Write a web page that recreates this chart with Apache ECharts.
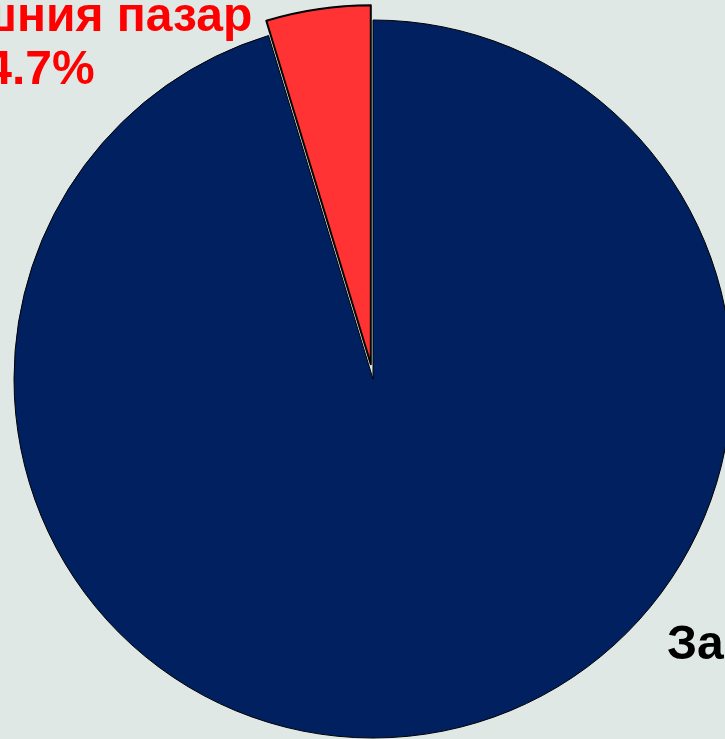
<!DOCTYPE html>
<html>
<head>
<meta charset="utf-8">
<script src="https://cdn.jsdelivr.net/npm/echarts@6/dist/echarts.min.js"></script>
<style>
html,body{margin:0;padding:0;background:#E0E8E6;}
#chart{width:725px;height:739px;}
</style>
</head>
<body>
<div id="chart"></div>
<script>
var categories = ['За износ', 'Вътрешния пазар'];
var values = [95.3, 4.7];
var colors = ['#00205F', '#FF3333'];
var labelTexts = ['За износ 95.3%', 'Вътрешния пазар\n4.7%'];

var chart = echarts.init(document.getElementById('chart'));
var labelPos = [
  {x: 667, y: 646, align: 'left', color: '#000000'},
  {x: 40, y: 44, align: 'center', color: '#FF0000'}
];
var data = categories.map(function (c, i) {
  return {
    name: c,
    value: values[i],
    selected: i === 1,
    itemStyle: {color: colors[i], borderColor: '#000', borderWidth: i === 1 ? 2 : 1}
  };
});
var graphics = labelTexts.map(function (t, i) {
  return {
    type: 'text',
    x: labelPos[i].x,
    y: labelPos[i].y,
    z: 100,
    style: {
      text: t,
      fill: labelPos[i].color,
      font: 'bold 48px "Liberation Sans", Arial, sans-serif',
      lineHeight: 53,
      align: labelPos[i].align,
      verticalAlign: 'middle'
    }
  };
});
chart.setOption({
  backgroundColor: '#E0E8E6',
  animation: false,
  graphic: graphics,
  series: [{
    type: 'pie',
    center: [373, 379],
    radius: [0, 359],
    startAngle: 90,
    clockwise: true,
    selectedMode: 'single',
    selectedOffset: 15,
    emphasis: {disabled: true},
    label: {show: false},
    labelLine: {show: false},
    data: data
  }]
});
</script>
</body>
</html>
